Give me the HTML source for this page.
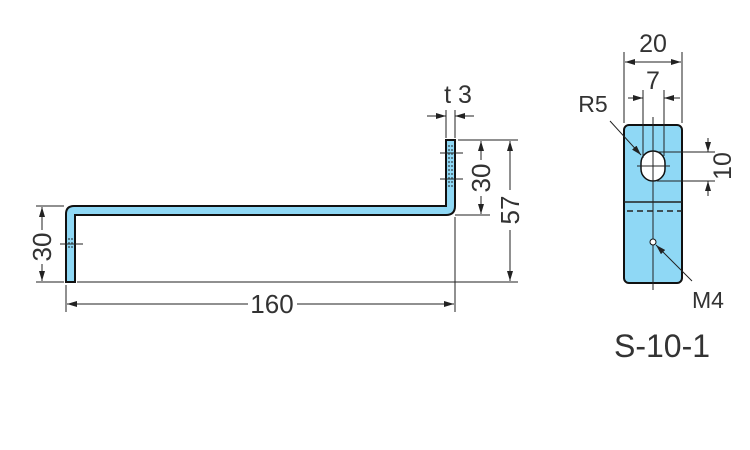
<!DOCTYPE html>
<html><head><style>html,body{margin:0;padding:0;background:#fff}svg{display:block}</style></head>
<body>
<svg width="750" height="450" viewBox="0 0 750 450" xmlns="http://www.w3.org/2000/svg" font-family="Liberation Sans, sans-serif" fill="#333">
<defs>
<marker id="a" viewBox="0 0 10 6" refX="10" refY="3" markerWidth="10" markerHeight="6" orient="auto-start-reverse" markerUnits="userSpaceOnUse"><path d="M0,0 L10,3 L0,6z" fill="#222"/></marker>
</defs>
<g stroke="#222" stroke-width="1" fill="none">
<path d="M66,282 L66,214 Q66,206 74,206 L446,206 Q446,206 446,198 L446,140 L455,140 L455,206 Q455,215 446,215 L75,215 L75,282 Z" fill="#8fd8f5" stroke="#111" stroke-width="2"/>
<line x1="60" y1="244" x2="83" y2="244"/>
<line x1="69" y1="238" x2="69" y2="250" stroke-dasharray="2,2"/>
<line x1="72" y1="238" x2="72" y2="250" stroke-dasharray="2,2"/>
<line x1="440" y1="153" x2="463" y2="153"/>
<line x1="440" y1="179" x2="463" y2="179"/>
<line x1="449" y1="145" x2="449" y2="187" stroke-dasharray="2,2"/>
<line x1="452" y1="145" x2="452" y2="187" stroke-dasharray="2,2"/>
<line x1="36" y1="206" x2="64" y2="206"/>
<line x1="36" y1="282" x2="64" y2="282"/>
<line x1="77" y1="282" x2="518" y2="282"/>
<line x1="458" y1="140" x2="518" y2="140"/>
<line x1="455" y1="215" x2="490" y2="215"/>
<line x1="66" y1="285" x2="66" y2="312"/>
<line x1="455" y1="217" x2="455" y2="312"/>
<line x1="446" y1="110" x2="446" y2="138"/>
<line x1="455" y1="110" x2="455" y2="138"/>
<line x1="67" y1="304" x2="248" y2="304" marker-start="url(#a)"/>
<line x1="297" y1="304" x2="454" y2="304" marker-end="url(#a)"/>
<line x1="42" y1="207" x2="42" y2="230" marker-start="url(#a)"/>
<line x1="42" y1="264" x2="42" y2="281" marker-end="url(#a)"/>
<line x1="481" y1="141" x2="481" y2="160" marker-start="url(#a)"/>
<line x1="481" y1="196" x2="481" y2="214" marker-end="url(#a)"/>
<line x1="510" y1="141" x2="510" y2="190" marker-start="url(#a)"/>
<line x1="510" y1="230" x2="510" y2="281" marker-end="url(#a)"/>
<line x1="427" y1="116" x2="446" y2="116" marker-end="url(#a)"/>
<line x1="474" y1="116" x2="455" y2="116" marker-end="url(#a)"/>
<rect x="624" y="125" width="58" height="158" rx="5" fill="#8fd8f5" stroke="#111" stroke-width="2"/>
<line x1="624" y1="202" x2="682" y2="202" stroke-width="1.5"/>
<line x1="627" y1="211" x2="682" y2="211" stroke-dasharray="6,4" stroke-width="1.5"/>
<rect x="641" y="151" width="24" height="30" rx="12" fill="#fff" stroke="#111" stroke-width="1.5"/>
<line x1="653" y1="117" x2="653" y2="290"/>
<line x1="637" y1="166" x2="670" y2="166"/>
<circle cx="653" cy="242" r="3" fill="#fff" stroke="#111"/>
<line x1="624" y1="52" x2="624" y2="123"/>
<line x1="682" y1="52" x2="682" y2="123"/>
<line x1="625" y1="62" x2="681" y2="62" marker-start="url(#a)" marker-end="url(#a)"/>
<line x1="643" y1="90" x2="643" y2="158"/>
<line x1="664" y1="90" x2="664" y2="156"/>
<line x1="628" y1="98" x2="643" y2="98" marker-end="url(#a)"/>
<line x1="680" y1="98" x2="664" y2="98" marker-end="url(#a)"/>
<line x1="657" y1="152" x2="715" y2="152"/>
<line x1="657" y1="181" x2="715" y2="181"/>
<line x1="708" y1="138" x2="708" y2="152" marker-end="url(#a)"/>
<line x1="708" y1="196" x2="708" y2="181" marker-end="url(#a)"/>
<line x1="610" y1="121" x2="641" y2="155" marker-end="url(#a)"/>
<line x1="692" y1="281" x2="656" y2="245" marker-end="url(#a)"/>
</g>
<g font-size="26" text-anchor="middle">
<text x="272" y="313">160</text>
<text transform="translate(51,247) rotate(-90)">30</text>
<text transform="translate(490,178) rotate(-90)">30</text>
<text transform="translate(519,210) rotate(-90)">57</text>
<text x="458" y="103" font-size="25">t 3</text>
<text x="653" y="52" font-size="25">20</text>
<text x="653" y="89" font-size="25">7</text>
<text transform="translate(731,166) rotate(-90)" font-size="25">10</text>
<text x="593" y="112" font-size="23">R5</text>
<text x="708" y="308" font-size="23">M4</text>
<text x="662" y="357" font-size="32">S-10-1</text>
</g>
</svg>
</body></html>
